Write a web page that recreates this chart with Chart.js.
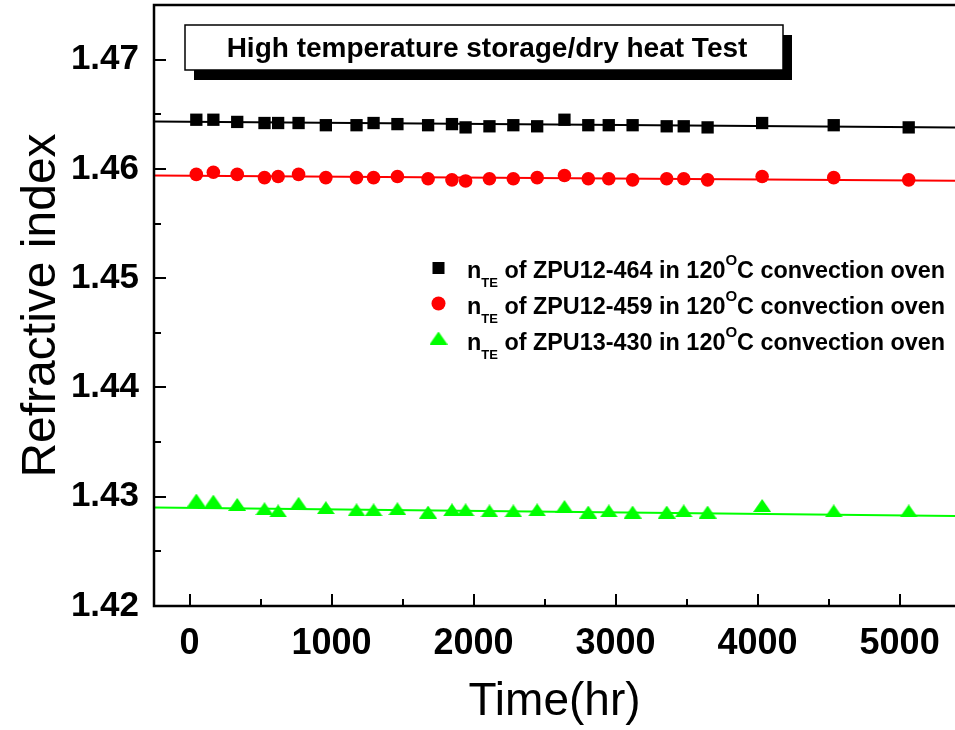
<!doctype html>
<html lang="en">
<head>
<meta charset="utf-8"/>
<title>Refractive index vs time</title>
<script src="https://cdn.jsdelivr.net/npm/chart.js"></script>
<style>
*{box-sizing:border-box}
html,body{margin:0;padding:0;background:#fff;overflow:hidden}
.wrap{width:955px;height:730px;position:relative}
</style>
</head>
<body>
<div class="wrap"><canvas id="chart" width="955" height="730"></canvas></div>
<script>
// storage time in hours
const HOURS = [48, 168, 336, 528, 624, 768, 960, 1176, 1296, 1464, 1680, 1848, 1944,
  2112, 2280, 2448, 2640, 2808, 2952, 3120, 3360, 3480, 3648, 4032, 4536, 5064];
// n_TE per film
const N_464 = [1.4645, 1.4645, 1.4643, 1.4642, 1.4642, 1.4642, 1.4640, 1.4640, 1.4642, 1.4641, 1.4640, 1.4641, 1.4638,
  1.4639, 1.4640, 1.4639, 1.4645, 1.4640, 1.4640, 1.4640, 1.4639, 1.4639, 1.4638, 1.4642, 1.4640, 1.4638];
const N_459 = [1.4595, 1.4597, 1.4595, 1.4592, 1.4593, 1.4595, 1.4592, 1.4592, 1.4592, 1.4593, 1.4591, 1.4590, 1.4589,
  1.4591, 1.4591, 1.4592, 1.4594, 1.4591, 1.4591, 1.4590, 1.4591, 1.4591, 1.4590, 1.4593, 1.4592, 1.4590];
const N_430 = [1.4297, 1.4296, 1.4293, 1.4289, 1.4287, 1.4294, 1.4290, 1.4288, 1.4288, 1.4289, 1.4286, 1.4288, 1.4288,
  1.4287, 1.4287, 1.4288, 1.4291, 1.4286, 1.4287, 1.4286, 1.4286, 1.4287, 1.4286, 1.4292, 1.4287, 1.4287];
// linear fits, evaluated at the two ends of the time axis
const FIT_X = [-250, 5390];
const FIT_464 = [1.46433, 1.46378];
const FIT_459 = [1.45940, 1.45892];
const FIT_430 = [1.42902, 1.42823];

const X_TICKS = [0, 1000, 2000, 3000, 4000, 5000];
const X_MINOR = [500, 1500, 2500, 3500, 4500];
const Y_TICKS = [1.42, 1.43, 1.44, 1.45, 1.46, 1.47];
const Y_MINOR = [1.425, 1.435, 1.445, 1.455, 1.465];

const SERIES = ['ZPU12-464', 'ZPU12-459', 'ZPU13-430'];
const COLORS = ['#000000', '#ff0000', '#00ff00'];
const TITLE = 'High temperature storage/dry heat Test';

const FONT = "'Liberation Sans', Arial, Helvetica, sans-serif";

// triangle marker, drawn as an image so it sits centred on its box
function triMarker(color, w, h){
  const c = document.createElement('canvas');
  c.width = w; c.height = h;
  const g = c.getContext('2d');
  g.fillStyle = color;
  g.beginPath(); g.moveTo(w/2, 0); g.lineTo(w, h); g.lineTo(0, h); g.closePath(); g.fill();
  return c;
}
const TRI = triMarker(COLORS[2], 18, 13);

function pts(xs, ys){ return xs.map((x, i) => ({ x, y: ys[i] })); }

// frame, inward ticks, boxed title and legend
const decor = {
  id: 'decor',
  afterDraw(chart){
    const { ctx, chartArea: a, scales: { x, y } } = chart;
    ctx.save();
    ctx.strokeStyle = '#000';
    ctx.lineWidth = 2.5;
    ctx.beginPath();
    ctx.moveTo(a.right + 2, a.top); ctx.lineTo(a.left, a.top);
    ctx.lineTo(a.left, a.bottom); ctx.lineTo(a.right + 2, a.bottom);
    ctx.stroke();

    ctx.lineWidth = 2;
    ctx.beginPath();
    Y_TICKS.forEach(v => { const p = Math.round(y.getPixelForValue(v)); ctx.moveTo(a.left, p); ctx.lineTo(a.left + 12, p); });
    Y_MINOR.forEach(v => { const p = Math.round(y.getPixelForValue(v)); ctx.moveTo(a.left, p); ctx.lineTo(a.left + 7, p); });
    X_TICKS.forEach(v => { const p = Math.round(x.getPixelForValue(v)); ctx.moveTo(p, a.bottom); ctx.lineTo(p, a.bottom - 12); });
    X_MINOR.forEach(v => { const p = Math.round(x.getPixelForValue(v)); ctx.moveTo(p, a.bottom); ctx.lineTo(p, a.bottom - 7); });
    ctx.stroke();

    // title box with drop shadow
    const bx = 185, by = 25, bw = 598, bh = 45;
    ctx.fillStyle = '#000';
    ctx.fillRect(bx + 9, by + 10, bw, bh);
    ctx.fillStyle = '#fff';
    ctx.fillRect(bx, by, bw, bh);
    ctx.lineWidth = 1.5;
    ctx.strokeRect(bx, by, bw, bh);
    ctx.fillStyle = '#000';
    ctx.font = 'bold 28px ' + FONT;
    ctx.textAlign = 'center';
    ctx.textBaseline = 'alphabetic';
    ctx.fillText(TITLE, bx + bw / 2 + 3, 57);

    // legend
    const rows = [278, 314, 350];
    ctx.textAlign = 'left';
    SERIES.forEach((name, i) => {
      const base = rows[i], mx = 438.5;
      ctx.fillStyle = COLORS[i];
      if (i === 0) ctx.fillRect(mx - 6, base - 16, 12, 12);
      else if (i === 1) { ctx.beginPath(); ctx.arc(mx, base - 10.5, 7, 0, Math.PI * 2); ctx.fill(); }
      else ctx.drawImage(TRI, mx - 9, base - 18.5);
      ctx.fillStyle = '#000';
      let tx = 467;
      ctx.font = 'bold 23.4px ' + FONT;
      ctx.fillText('n', tx, base); tx += ctx.measureText('n').width;
      ctx.font = 'bold 13px ' + FONT;
      ctx.fillText('TE', tx, base + 9); tx += ctx.measureText('TE').width;
      ctx.font = 'bold 23.4px ' + FONT;
      const mid = ' of ' + name + ' in 120';
      ctx.fillText(mid, tx, base); tx += ctx.measureText(mid).width;
      ctx.font = 'bold 15px ' + FONT;
      ctx.fillText('O', tx, base - 13); tx += ctx.measureText('O').width;
      ctx.font = 'bold 23.4px ' + FONT;
      ctx.fillText('C convection oven', tx, base);
    });
    ctx.restore();
  }
};

new Chart(document.getElementById('chart'), {
  type: 'scatter',
  data: {
    datasets: [
      { label: SERIES[0], data: pts(HOURS, N_464), pointStyle: 'rect', pointRadius: 8.7, backgroundColor: COLORS[0], borderWidth: 0, order: 1 },
      { label: SERIES[1], data: pts(HOURS, N_459), pointStyle: 'circle', pointRadius: 6.8, backgroundColor: COLORS[1], borderWidth: 0, order: 1 },
      { label: SERIES[2], data: pts(HOURS, N_430), pointStyle: TRI, pointRadius: 9, backgroundColor: COLORS[2], borderWidth: 0, order: 1 },
      { type: 'line', data: pts(FIT_X, FIT_464), borderColor: COLORS[0], borderWidth: 2, pointRadius: 0, order: 2 },
      { type: 'line', data: pts(FIT_X, FIT_459), borderColor: COLORS[1], borderWidth: 2, pointRadius: 0, order: 2 },
      { type: 'line', data: pts(FIT_X, FIT_430), borderColor: COLORS[2], borderWidth: 2, pointRadius: 0, order: 2 }
    ]
  },
  options: {
    responsive: false,
    animation: false,
    layout: { autoPadding: false, padding: { left: 13, top: 5, right: 0, bottom: 0 } },
    plugins: { legend: { display: false }, tooltip: { enabled: false } },
    scales: {
      x: {
        type: 'linear', min: -250, max: 5390,
        afterBuildTicks: s => { s.ticks = X_TICKS.map(v => ({ value: v })); },
        afterFit: s => { s.height = 124; s.paddingLeft = 0; s.paddingRight = 0; },
        grid: { display: false, drawTicks: false },
        border: { display: false },
        ticks: { color: '#000', padding: 16, maxRotation: 0, autoSkip: false, callback: v => String(v),
          font: { family: FONT, size: 36, weight: 'bold' } },
        title: { display: true, text: 'Time(hr)', color: '#000', padding: { top: 12, bottom: 0 }, font: { family: FONT, size: 46 } }
      },
      y: {
        min: 1.42, max: 1.475,
        afterBuildTicks: s => { s.ticks = Y_TICKS.map(v => ({ value: v })); },
        afterFit: s => { s.width = 141; s.paddingTop = 0; s.paddingBottom = 0; },
        grid: { display: false, drawTicks: false },
        border: { display: false },
        ticks: { color: '#000', padding: 15, callback: v => v.toFixed(2), font: { family: FONT, size: 35, weight: 'bold' } },
        title: { display: true, text: 'Refractive index', color: '#000', padding: { top: 0, bottom: 0 }, font: { family: FONT, size: 48 } }
      }
    }
  },
  plugins: [decor]
});
</script>
</body>
</html>
